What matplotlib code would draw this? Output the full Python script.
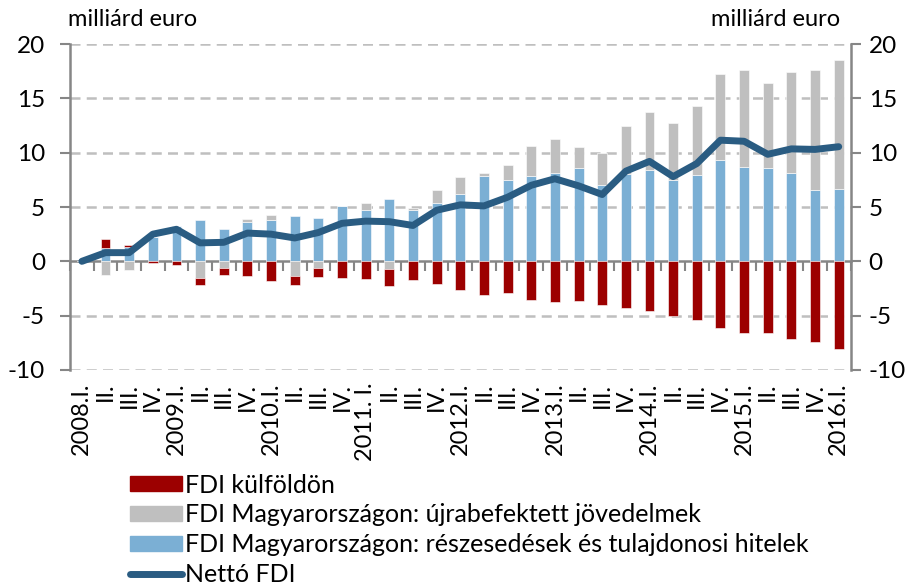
import matplotlib.pyplot as plt
import numpy as np
from matplotlib.patches import Patch
from matplotlib.lines import Line2D

plt.rcParams['font.family'] = ['Lato', 'DejaVu Sans']
plt.rcParams['axes.unicode_minus'] = False

quarters = ['2008.I.', 'II.', 'III.', 'IV.',
            '2009.I.', 'II.', 'III.', 'IV.',
            '2010.I.', 'II.', 'III.', 'IV.',
            '2011. I.', 'II.', 'III.', 'IV.',
            '2012.I.', 'II.', 'III.', 'IV.',
            '2013.I.', 'II.', 'III.', 'IV.',
            '2014.I.', 'II.', 'III.', 'IV.',
            '2015.I.', 'II.', 'III.', 'IV.',
            '2016.I.']

# FDI Magyarországon: részesedések és tulajdonosi hitelek
equity = [0, 1.25, 1.35, 2.25, 3.25, 3.85, 3.0, 3.65, 3.85, 4.15, 4.0, 5.05,
          4.7, 5.75, 4.75, 5.35, 6.2, 7.85, 7.5, 7.85, 8.1, 8.6, 7.0, 8.05,
          8.45, 7.5, 7.9, 9.3, 8.7, 8.6, 8.1, 6.55, 6.65]
# FDI Magyarországon: újrabefektett jövedelmek
reinvested = [0, -1.3, -0.8, 0, 0, -1.5, -0.65, 0.22, 0.38, -1.38, -0.6, 0,
              0.65, -0.74, 0.2, 1.25, 1.57, 0.25, 1.32, 2.73, 3.17, 1.94, 3.0, 4.45,
              5.3, 5.22, 6.44, 7.95, 8.92, 7.79, 9.35, 11.07, 11.84]
# FDI külföldön
abroad = [0, 0.78, 0.12, -0.15, -0.37, -0.7, -0.65, -1.35, -1.8, -0.77, -0.87, -1.56,
          -1.66, -1.56, -1.72, -2.05, -2.68, -3.07, -2.91, -3.56, -3.77, -3.68, -3.99, -4.32,
          -4.6, -5.03, -5.37, -6.13, -6.62, -6.62, -7.11, -7.39, -8.03]
# Nettó FDI
net = [0, 0.8, 0.8, 2.5, 2.95, 1.7, 1.75, 2.6, 2.5, 2.15, 2.65, 3.5,
       3.7, 3.65, 3.3, 4.7, 5.2, 5.1, 5.9, 7.0, 7.6, 6.95, 6.15, 8.3,
       9.2, 7.8, 9.0, 11.15, 11.05, 9.85, 10.35, 10.3, 10.55]

red = '#9C0000'
gray = '#BFBFBF'
blue = '#7BAFD4'
navy = '#2A5C82'
axis_gray = '#868686'

fig = plt.figure(figsize=(9.12, 5.87), dpi=100)
ax = fig.add_axes([0.0768, 0.3697, 0.8558, 0.5553])

x = np.arange(len(quarters))
pos_bottom = np.zeros(len(x))
neg_bottom = np.zeros(len(x))
for vals, color in [(equity, blue), (reinvested, gray), (abroad, red)]:
    v = np.array(vals, dtype=float)
    bottom = np.where(v >= 0, pos_bottom, neg_bottom)
    ax.bar(x, v, 0.42, bottom=bottom, color=color, edgecolor='white',
           linewidth=0.4, zorder=3)
    pos_bottom += np.clip(v, 0, None)
    neg_bottom += np.clip(v, None, 0)

ax.plot(x, net, color=navy, lw=5, solid_capstyle='round', solid_joinstyle='round', zorder=5)

ymin, ymax = -10, 20
ax.set_xlim(-0.5, len(x) - 0.5)
ax.set_ylim(ymin, ymax)
yt = np.arange(-10, 21, 5)
ax.set_yticks(yt)
for v in yt:
    if v != 0:
        ax.axhline(v, color=gray, lw=1.8, ls=(0, (4, 2.5)), zorder=1)

for s in ['top', 'bottom', 'right']:
    ax.spines[s].set_visible(False)
ax.spines['left'].set_color(axis_gray)
ax.spines['left'].set_linewidth(1.8)
ax.tick_params(axis='y', direction='out', length=7, width=1.5, color=axis_gray,
               labelsize=17.5, pad=11)
ax.set_xticks(x)
ax.set_xticklabels(quarters, rotation=90, fontsize=17)
ax.tick_params(axis='x', length=0, pad=9)

ax2 = ax.twinx()
ax2.set_ylim(ymin, ymax)
ax2.set_yticks(yt)
for s in ['top', 'bottom', 'left']:
    ax2.spines[s].set_visible(False)
ax2.spines['right'].set_color(axis_gray)
ax2.spines['right'].set_linewidth(1.8)
ax2.tick_params(axis='y', direction='out', length=7, width=1.5, color=axis_gray,
                labelsize=17.5, pad=6)

# zero line with category separators
sec = ax.secondary_xaxis((0 - ymin) / (ymax - ymin))
sec.set_xticks(np.arange(-0.5, len(x), 1.0))
sec.tick_params(direction='out', length=7, width=1.5, color=axis_gray, labelbottom=False)
sec.spines['bottom'].set_color(axis_gray)
sec.spines['bottom'].set_linewidth(1.8)

fig.text(0.0746, 0.966, 'milliárd euro', fontsize=17, va='center', ha='left')
fig.text(0.921, 0.966, 'milliárd euro', fontsize=17, va='center', ha='right')

handles = [Patch(color=red), Patch(color=gray), Patch(color=blue),
           Line2D([], [], color=navy, lw=5, solid_capstyle='round')]
labels = ['FDI külföldön',
          'FDI Magyarországon: újrabefektett jövedelmek',
          'FDI Magyarországon: részesedések és tulajdonosi hitelek',
          'Nettó FDI']
fig.legend(handles, labels, loc='upper left', bbox_to_anchor=(0.1425, 0.193),
           frameon=False, fontsize=18, handlelength=2.1, handleheight=0.55,
           handletextpad=0.12, labelspacing=0.27, borderpad=0, borderaxespad=0)

fig.savefig('out.png', dpi=100)
